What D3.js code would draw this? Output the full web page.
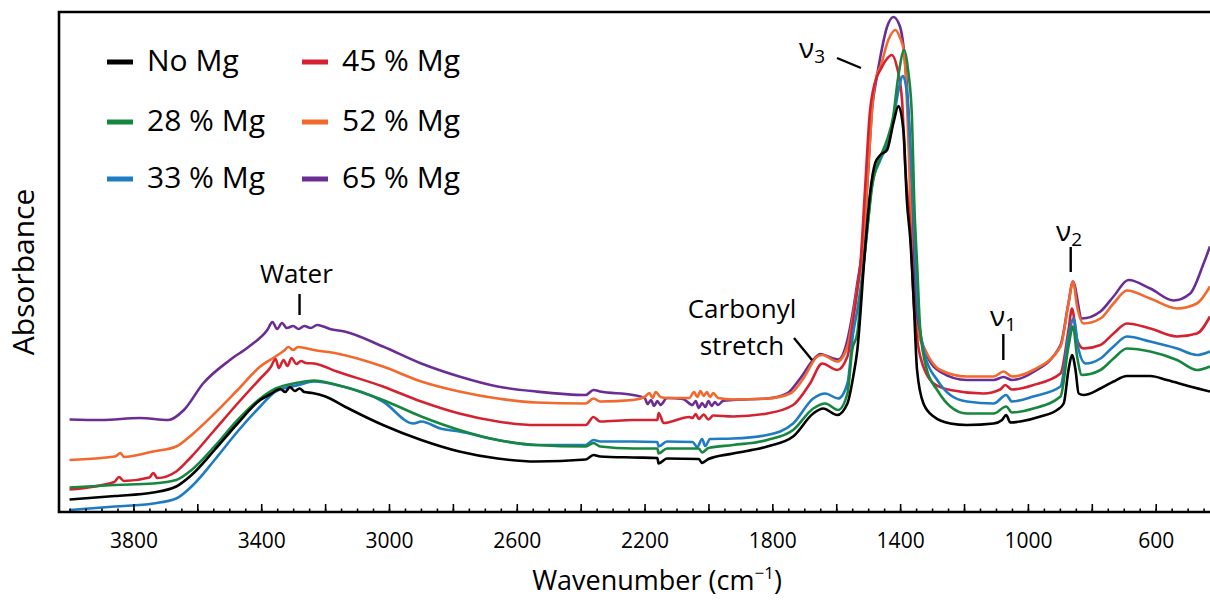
<!DOCTYPE html>
<html>
<head>
<meta charset="utf-8">
<script src="https://cdn.jsdelivr.net/npm/d3@7"></script>
<style>
  body { margin: 0; background: #fff; }
  text { font-family: "Open Sans", "Noto Sans", sans-serif; fill: #000; }
</style>
</head>
<body>
<svg id="chart" width="1210" height="600"></svg>
<script>
// FTIR spectra of Mg-bearing calcium carbonate samples, [wavenumber (cm-1), absorbance (a.u., offset)]
const noMg = [
  [4000,0.025],[3858,0.032],[3738,0.039],[3666,0.051],[3618,0.074],[3546,0.124],[3474,0.177],
  [3403,0.224],[3370,0.236],[3340,0.246],[3325,0.240],[3310,0.250],[3295,0.242],[3280,0.247],
  [3265,0.240],[3240,0.238],[3199,0.231],[3139,0.211],[3019,0.174],
  [2899,0.144],[2780,0.121],[2660,0.107],[2540,0.101],[2384,0.105],[2360,0.114],[2339,0.111],
  [2236,0.109],[2160,0.108],[2156,0.097],[2130,0.107],[2030,0.106],[2020,0.098],[2000,0.106],
  [1923,0.117],[1816,0.131],[1735,0.151],[1672,0.197],[1641,0.207],[1597,0.194],[1565,0.217],
  [1547,0.270],[1534,0.324],[1510,0.524],[1494,0.638],[1478,0.698],[1462,0.714],[1441,0.724],
  [1421,0.778],[1405,0.812],[1389,0.758],[1379,0.624],[1368,0.544],[1358,0.430],[1347,0.284],
  [1327,0.217],[1295,0.191],[1243,0.177],[1191,0.174],[1107,0.177],[1081,0.184],[1068,0.194],
  [1055,0.179],[1024,0.181],[961,0.191],[909,0.204],[888,0.217],[873,0.284],[862,0.314],
  [851,0.284],[841,0.237],[826,0.234],[773,0.247],[732,0.261],[690,0.272],[617,0.272],
  [565,0.264],[492,0.251],[430,0.241]
];
const mg28 = [
  [4000,0.049],[3858,0.054],[3738,0.057],[3666,0.064],[3618,0.084],[3546,0.131],[3474,0.184],
  [3403,0.227],[3355,0.247],[3283,0.259],[3235,0.263],[3163,0.254],[3019,0.224],[2899,0.191],
  [2780,0.164],[2660,0.144],[2540,0.134],[2384,0.131],[2360,0.138],[2339,0.131],[2236,0.127],
  [2160,0.127],[2156,0.117],[2130,0.127],[2030,0.127],[2020,0.119],[2000,0.128],[1923,0.134],
  [1816,0.144],[1735,0.164],[1672,0.207],[1634,0.217],[1594,0.204],[1565,0.237],[1550,0.324],
  [1534,0.358],[1519,0.464],[1503,0.564],[1488,0.650],[1462,0.710],[1441,0.744],[1422,0.790],
  [1406,0.870],[1387,0.924],[1374,0.878],[1363,0.790],[1356,0.624],[1346,0.484],[1337,0.364],
  [1316,0.284],[1284,0.244],[1243,0.211],[1191,0.197],[1107,0.197],[1068,0.211],[1050,0.199],
  [983,0.207],[898,0.231],[873,0.331],[859,0.371],[846,0.311],[831,0.274],[773,0.284],
  [732,0.307],[690,0.327],[617,0.321],[533,0.304],[471,0.284],[430,0.291]
];
const mg33 = [
  [4000,0.004],[3858,0.011],[3738,0.017],[3666,0.027],[3618,0.051],[3546,0.104],[3474,0.161],
  [3403,0.211],[3355,0.241],[3283,0.254],[3235,0.261],[3163,0.254],[3019,0.221],[2923,0.177],
  [2899,0.181],[2839,0.167],[2780,0.161],[2660,0.144],[2540,0.134],[2384,0.134],[2360,0.144],
  [2339,0.141],[2236,0.141],[2160,0.140],[2156,0.131],[2130,0.141],[2050,0.140],[2035,0.130],
  [2020,0.146],[2010,0.132],[1995,0.146],[1923,0.147],[1816,0.154],[1735,0.177],[1672,0.227],
  [1634,0.237],[1594,0.227],
  [1565,0.257],[1547,0.358],[1534,0.404],[1515,0.491],[1500,0.584],[1488,0.654],[1462,0.704],
  [1435,0.744],[1416,0.804],[1405,0.844],[1391,0.872],[1379,0.838],[1363,0.666],[1343,0.398],
  [1321,0.311],[1284,0.264],[1243,0.234],[1191,0.221],[1107,0.217],[1068,0.234],[1050,0.221],
  [983,0.231],[898,0.251],[873,0.351],[857,0.387],[841,0.324],[820,0.297],[773,0.307],
  [732,0.331],[690,0.351],[617,0.341],[533,0.327],[471,0.314],[430,0.321]
];
const mg45 = [
  [4000,0.045],[3860,0.060],[3845,0.070],[3830,0.062],[3750,0.069],[3738,0.078],[3725,0.068],
  [3666,0.081],[3618,0.111],[3546,0.164],[3474,0.217],[3403,0.267],[3370,0.290],[3355,0.306],
  [3345,0.288],[3330,0.304],[3318,0.292],[3305,0.308],[3290,0.296],[3275,0.302],[3260,0.298],
  [3235,0.297],[3163,0.281],[3019,0.251],[2899,0.221],
  [2780,0.197],[2660,0.181],[2540,0.174],[2384,0.174],[2360,0.190],[2339,0.181],[2236,0.184],
  [2160,0.184],[2156,0.198],[2140,0.178],[2060,0.190],[2050,0.188],[2040,0.196],[2030,0.186],
  [2015,0.195],[2000,0.185],[1985,0.193],[1923,0.191],[1816,0.197],[1735,0.214],
  [1682,0.257],[1644,0.297],[1597,0.284],[1565,0.311],[1547,0.384],[1534,0.444],[1525,0.491],
  [1510,0.644],[1494,0.804],[1473,0.870],[1462,0.884],[1444,0.904],[1426,0.914],[1410,0.890],
  [1394,0.824],[1384,0.690],[1368,0.564],[1358,0.430],[1337,0.311],[1295,0.257],[1243,0.244],
  [1139,0.237],[1087,0.245],[1071,0.254],[1050,0.245],[983,0.254],[898,0.277],[873,0.364],
  [862,0.407],[846,0.344],[826,0.327],[773,0.334],[732,0.357],[690,0.377],[617,0.367],
  [533,0.351],[471,0.357],[430,0.391]
];
const mg52 = [
  [4000,0.104],[3858,0.111],[3840,0.118],[3830,0.110],[3738,0.121],[3666,0.131],[3618,0.154],
  [3546,0.197],[3474,0.244],[3403,0.291],[3355,0.311],[3330,0.322],[3315,0.330],[3300,0.324],
  [3285,0.330],[3235,0.324],[3163,0.317],[3019,0.291],[2899,0.261],
  [2780,0.241],[2660,0.227],[2540,0.219],[2384,0.217],[2360,0.227],[2339,0.221],[2236,0.224],
  [2200,0.230],[2185,0.238],[2175,0.228],[2165,0.240],[2150,0.230],[2130,0.228],[2060,0.228],
  [2045,0.240],[2035,0.230],[2025,0.242],[2015,0.232],[2005,0.240],[1995,0.230],[1985,0.238],
  [1970,0.228],[1923,0.225],[1816,0.227],[1744,0.237],[1703,0.267],
  [1659,0.311],[1644,0.314],[1597,0.301],[1565,0.331],[1547,0.394],[1534,0.448],[1515,0.534],
  [1500,0.684],[1484,0.834],[1473,0.874],[1462,0.890],[1437,0.944],[1415,0.964],[1400,0.948],
  [1389,0.924],[1380,0.844],[1371,0.684],[1362,0.484],[1353,0.384],[1316,0.317],[1274,0.284],
  [1191,0.271],[1107,0.271],[1076,0.281],[1050,0.271],[983,0.284],[898,0.331],[873,0.417],
  [859,0.461],[846,0.411],[826,0.377],[773,0.387],[732,0.417],[690,0.443],[617,0.427],
  [533,0.407],[471,0.417],[430,0.451]
];
const mg65 = [
  [4000,0.185],[3900,0.184],[3780,0.188],[3691,0.184],[3642,0.204],[3582,0.257],[3498,0.304],
  [3438,0.331],[3380,0.365],[3365,0.380],[3350,0.366],[3335,0.378],[3320,0.368],[3300,0.372],
  [3283,0.366],[3265,0.372],[3245,0.368],[3225,0.374],[3205,0.371],[3185,0.366],[3139,0.361],
  [3019,0.331],[2899,0.297],
  [2780,0.271],[2660,0.251],[2540,0.241],[2384,0.234],[2360,0.244],[2339,0.241],[2236,0.234],
  [2200,0.228],[2190,0.216],[2180,0.224],[2170,0.212],[2160,0.222],[2150,0.214],[2130,0.228],
  [2080,0.226],[2050,0.214],[2040,0.222],[2030,0.208],[2020,0.218],[2010,0.210],[2000,0.222],
  [1990,0.212],[1980,0.220],[1970,0.214],[1955,0.222],[1923,0.224],[1816,0.227],[1754,0.237],
  [1713,0.267],[1672,0.304],[1650,0.316],[1609,0.307],[1594,0.305],[1565,0.344],[1547,0.404],
  [1534,0.458],[1515,0.544],[1500,0.684],[1488,0.804],[1473,0.870],[1462,0.910],[1441,0.970],
  [1421,0.990],[1400,0.970],[1390,0.934],[1380,0.864],[1368,0.724],[1358,0.524],[1347,0.384],
  [1316,0.314],[1274,0.280],[1191,0.264],[1107,0.264],[1076,0.270],[1050,0.264],[983,0.280],
  [898,0.334],[873,0.418],[859,0.461],[831,0.387],[773,0.401],[732,0.431],[685,0.464],
  [617,0.447],[544,0.423],[492,0.437],[450,0.497],[430,0.531]
];

const seriesLabels = ["No Mg", "28 % Mg", "33 % Mg", "45 % Mg", "52 % Mg", "65 % Mg"];
const seriesColors = ["#000000", "#17873f", "#1f7cc2", "#d42230", "#f2682d", "#6a2d93"];
const seriesData = [noMg, mg28, mg33, mg45, mg52, mg65];

const labelTicks = [3800, 3400, 3000, 2600, 2200, 1800, 1400, 1000, 600];
const majorTicks = d3.range(3800, 399, -200);
const minorTicks = d3.range(4000, 399, -50);

const svg = d3.select("#chart");
const margin = { left: 59, top: 12, bottom: 512, right: 1210 };

const x = d3.scaleLinear().domain([4033, 430]).range([margin.left, margin.right]);
const y = d3.scaleLinear().domain([0, 1]).range([margin.bottom, margin.top]);

svg.append("defs").append("clipPath").attr("id", "plotClip")
  .append("rect").attr("x", margin.left).attr("y", margin.top)
  .attr("width", margin.right - margin.left).attr("height", margin.bottom - margin.top);

const line = d3.line()
  .x(d => x(d[0])).y(d => y(d[1]))
  .curve(d3.curveMonotoneX);

// draw order: purple at the back, black on top
const order = [5, 4, 3, 2, 1, 0];
const lines = svg.append("g").attr("clip-path", "url(#plotClip)");
order.forEach(i => {
  const pts = seriesData[i].slice().sort((a, b) => b[0] - a[0]);
  lines.append("path")
    .attr("d", line(pts))
    .attr("fill", "none")
    .attr("stroke", seriesColors[i])
    .attr("stroke-width", 2.6)
    .attr("stroke-linejoin", "round");
});

// x axis with inward ticks
const axisG = svg.append("g").attr("transform", `translate(0,${margin.bottom})`);
axisG.call(d3.axisBottom(x).tickValues(minorTicks).tickSize(-3.5).tickFormat(""));
const majorG = svg.append("g").attr("transform", `translate(0,${margin.bottom})`);
majorG.call(d3.axisBottom(x).tickValues(majorTicks).tickSize(-8).tickPadding(21)
  .tickFormat(d => labelTicks.includes(d) ? String(d) : ""));
[axisG, majorG].forEach(g => {
  g.select(".domain").remove();
  g.selectAll(".tick line").attr("stroke", "#000").attr("stroke-width", 1.6);
});
majorG.selectAll(".tick text").attr("font-size", 21).attr("font-family", "Open Sans");

// frame: left, top, bottom
svg.append("path")
  .attr("d", `M${margin.right},${margin.top}H${margin.left}V${margin.bottom}H${margin.right}`)
  .attr("fill", "none").attr("stroke", "#000").attr("stroke-width", 2.6);

// axis titles
const title = svg.append("text").attr("x", 657).attr("y", 590)
  .attr("text-anchor", "middle").attr("font-size", 27);
title.append("tspan").text("Wavenumber (cm");
title.append("tspan").text("−1").attr("font-size", 17).attr("dy", -11);
title.append("tspan").text(")").attr("dy", 11);

svg.append("text")
  .attr("transform", "translate(34,272) rotate(-90)")
  .attr("text-anchor", "middle").attr("font-size", 30)
  .text("Absorbance");

// legend: two columns of three
const legendPos = [
  [107, 62], [107, 122], [107, 179],
  [302, 62], [302, 122], [302, 179]
];
seriesLabels.forEach((lab, i) => {
  const [lx, ly] = legendPos[i];
  svg.append("line").attr("x1", lx).attr("x2", lx + 26).attr("y1", ly).attr("y2", ly)
    .attr("stroke", seriesColors[i]).attr("stroke-width", 5);
  svg.append("text").attr("x", lx + 40).attr("y", ly + 9).attr("font-size", 30).text(lab);
});

// peak annotations
const annG = svg.append("g");
annG.append("text").attr("x", x(3290)).attr("y", 283).attr("text-anchor", "middle")
  .attr("font-size", 26).text("Water");
annG.append("line").attr("x1", x(3280)).attr("x2", x(3280)).attr("y1", 294).attr("y2", 315)
  .attr("stroke", "#000").attr("stroke-width", 2.4);
annG.append("text").attr("x", 742).attr("y", 318).attr("text-anchor", "middle")
  .attr("font-size", 26).text("Carbonyl");
annG.append("text").attr("x", 742).attr("y", 355).attr("text-anchor", "middle")
  .attr("font-size", 26).text("stretch");
annG.append("line").attr("x1", 794).attr("y1", 338).attr("x2", 812).attr("y2", 360)
  .attr("stroke", "#000").attr("stroke-width", 2.4);

function nu(xc, yb, sub) {
  const t = annG.append("text").attr("x", xc).attr("y", yb).attr("text-anchor", "middle")
    .attr("font-size", 28);
  t.append("tspan").text("ν");
  t.append("tspan").text(sub).attr("font-size", 19).attr("dy", 5);
}
nu(812, 58, "3");
annG.append("line").attr("x1", 837).attr("y1", 58).attr("x2", 861).attr("y2", 68)
  .attr("stroke", "#000").attr("stroke-width", 2.4);
nu(1003, 326, "1");
annG.append("line").attr("x1", x(1077)).attr("x2", x(1077)).attr("y1", 334).attr("y2", 360)
  .attr("stroke", "#000").attr("stroke-width", 2.4);
nu(1069, 241, "2");
annG.append("line").attr("x1", x(866)).attr("x2", x(866)).attr("y1", 247).attr("y2", 272)
  .attr("stroke", "#000").attr("stroke-width", 2.4);
</script>
</body>
</html>
